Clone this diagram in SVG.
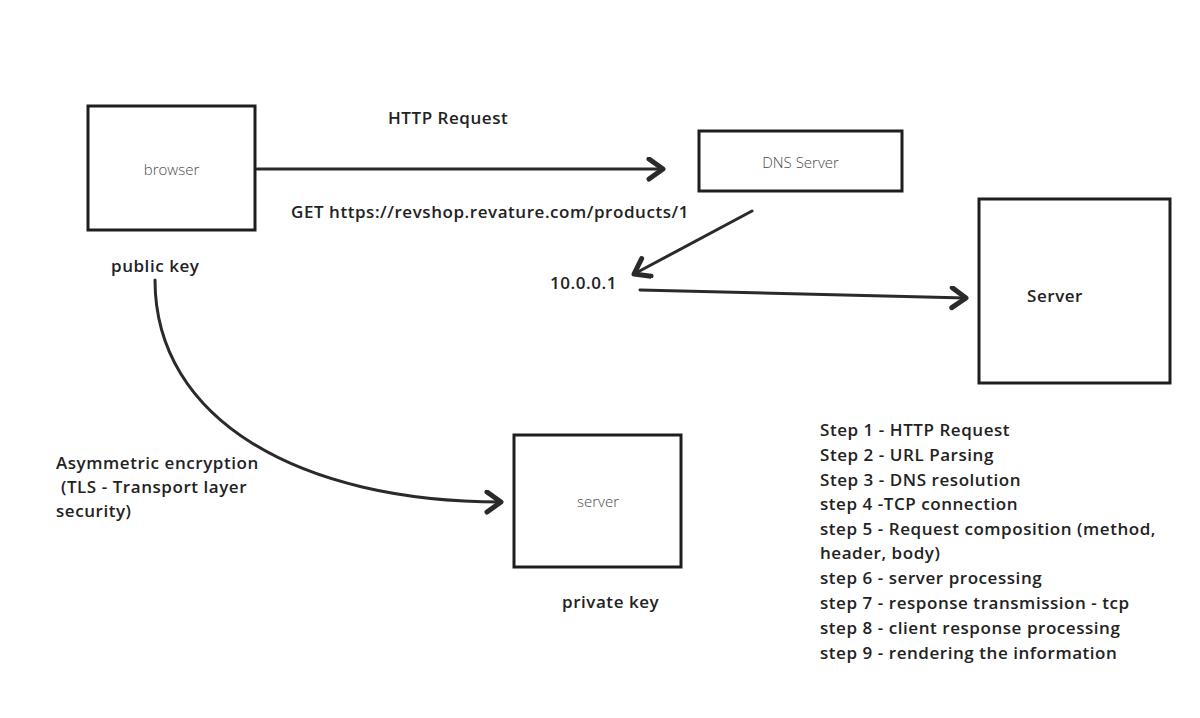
<svg xmlns="http://www.w3.org/2000/svg" width="1200" height="718" viewBox="0 0 1200 718">
<style>
.box{fill:#fff;stroke:#1e1e1e;stroke-width:3}
.lbl{font-family:"Open Sans","Liberation Sans",sans-serif;font-size:15px;font-weight:300;fill:#4a4a4a}
.t{font-family:"Open Sans","Liberation Sans",sans-serif;font-size:17px;font-weight:600;letter-spacing:0.55px;fill:#222}
.conn{fill:none;stroke:#2a2a2a;stroke-width:3;stroke-linecap:round}
</style>
<defs>
<marker id="ah" markerUnits="userSpaceOnUse" markerWidth="26" markerHeight="28" refX="20" refY="12" orient="auto" viewBox="0 0 26 28">
<path d="M6,2 L20,12 L6,22" fill="none" stroke="#2a2a2a" stroke-width="5" stroke-linejoin="round" stroke-linecap="round"/>
</marker>
</defs>
<rect width="1200" height="718" fill="#fff"/>
<g id="connectors">
<path class="conn" d="M257,169 L663,169" marker-end="url(#ah)"/>
<path class="conn" d="M752,211 L634,274" marker-end="url(#ah)"/>
<path class="conn" d="M640,290 L966,298" marker-end="url(#ah)"/>
<path class="conn" d="M155,280 C155,420 300,502 501,502" marker-end="url(#ah)"/>
</g>
<g id="browser">
<rect class="box" x="88" y="106" width="167" height="124"/>
<text class="lbl" x="171.5" y="175" text-anchor="middle">browser</text>
</g>
<g id="dns-server">
<rect class="box" x="699" y="131" width="203" height="60"/>
<text class="lbl" x="800.5" y="168" text-anchor="middle" font-size="14">DNS Server</text>
</g>
<g id="server-main">
<rect class="box" x="979" y="199" width="191" height="184"/>
<text class="t" x="1027" y="302">Server</text>
</g>
<g id="server-tls">
<rect class="box" x="514" y="435" width="167" height="132"/>
<text class="lbl" x="598" y="507" text-anchor="middle">server</text>
</g>
<g id="labels">
<text class="t" x="388" y="124">HTTP Request</text>
<text class="t" x="291" y="218">GET https://revshop.revature.com/products/1</text>
<text class="t" x="111" y="272">public key</text>
<text class="t" x="550" y="289">10.0.0.1</text>
<text class="t" x="56" y="469">Asymmetric encryption</text>
<text class="t" x="56" y="493" xml:space="preserve"> (TLS - Transport layer</text>
<text class="t" x="56" y="517">security)</text>
<text class="t" x="562" y="608">private key</text>
</g>
<g id="steps" class="t">
<text x="820" y="436">Step 1 - HTTP Request</text>
<text x="820" y="461">Step 2 - URL Parsing</text>
<text x="820" y="486">Step 3 - DNS resolution</text>
<text x="820" y="510">step 4 -TCP connection</text>
<text x="820" y="535">step 5 - Request composition (method,</text>
<text x="820" y="559">header, body)</text>
<text x="820" y="584">step 6 - server processing</text>
<text x="820" y="609">step 7 - response transmission - tcp</text>
<text x="820" y="634">step 8 - client response processing</text>
<text x="820" y="659">step 9 - rendering the information</text>
</g>
</svg>
